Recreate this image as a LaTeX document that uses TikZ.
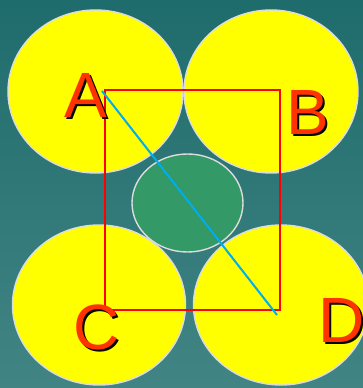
\documentclass[tikz,border=0pt]{standalone}
\usepackage{fontspec}
\setmainfont{Liberation Sans}
\definecolor{bgtop}{RGB}{31,108,108}
\definecolor{bgbot}{RGB}{66,132,132}
\definecolor{rim}{RGB}{220,220,220}
\definecolor{coregreen}{RGB}{51,153,102}
\definecolor{lblred}{RGB}{255,51,0}
\definecolor{ballyellow}{RGB}{255,255,0}
\begin{document}
\begin{tikzpicture}[x=1pt,y=1pt,
  ball/.style={fill=ballyellow,draw=rim,line width=1.4pt},
  core/.style={fill=coregreen,draw=rim,line width=1.4pt},
  lbl/.style={font=\fontsize{64}{64}\selectfont,text=lblred,inner sep=0pt,anchor=base},
  shd/.style={font=\fontsize{64}{64}\selectfont,text=black,inner sep=0pt,anchor=base},
  sq/.style={draw=red,line width=2pt},
  diag/.style={draw=cyan,line width=2pt}]
\useasboundingbox (0,0) rectangle (363,388);
\clip (0,0) rectangle (363,388);
\shade[top color=bgtop,bottom color=bgbot] (0,0) rectangle (363,388);
% balls
\path[ball] (95.5,296.5) ellipse [x radius=87.5,y radius=81.5];
\path[ball] (271,296.5) ellipse [x radius=87,y radius=81.5];
\path[ball] (99,83) ellipse [x radius=86.5,y radius=80];
\path[ball] (281,83) ellipse [x radius=87.5,y radius=80];
\path[core] (187.5,185) ellipse [x radius=55.5,y radius=49];
% square corners
\coordinate (pA) at (104.5,298);
\coordinate (pB) at (280,298);
\coordinate (pD) at (280,77.5);
\coordinate (pC) at (104.5,77.5);
\coordinate (dA) at (102,297);
\coordinate (dD) at (277,73);
\draw[sq] (pA) -- (pB) -- (pD) -- (pC) -- cycle;
\draw[diag] (dA) -- (dD);
% labels
\node[shd] (sA) at (87.5,268) {A};
\node[lbl] (A) at (85.5,270) {A};
\node[shd] (sB) at (309.5,251) {B};
\node[lbl] (B) at (307.5,253) {B};
\node[shd] (sC) at (99,36) {C};
\node[lbl] (C) at (97,38) {C};
\node[shd] (sD) at (344,43) {D};
\node[lbl] (D) at (342,45) {D};
\end{tikzpicture}
\end{document}
